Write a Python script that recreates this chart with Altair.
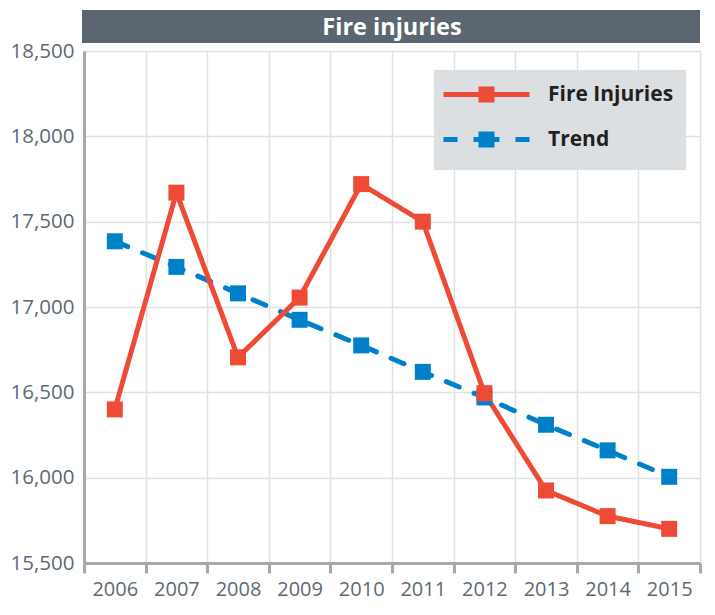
import altair as alt
import pandas as pd

# ---- data ----
years = ["2006", "2007", "2008", "2009", "2010", "2011", "2012", "2013", "2014", "2015"]
fire_injuries = [16400, 17670, 16705, 17055, 17720, 17500, 16495, 15925, 15775, 15700]
trend = [17385, 17235, 17080, 16925, 16775, 16620, 16470, 16310, 16160, 16005]
series_names = ["Fire Injuries", "Trend"]
series_colors = ["#ee4b37", "#0080c9"]
y_ticks = [15500, 16000, 16500, 17000, 17500, 18000, 18500]
title_text = "Fire injuries"

rows = []
for y, v in zip(years, trend):
    rows.append({"year": y, "value": v, "series": "Trend", "order": 0})
for y, v in zip(years, fire_injuries):
    rows.append({"year": y, "value": v, "series": "Fire Injuries", "order": 1})
df = pd.DataFrame(rows)

W, H = 616, 512
FONT = "Open Sans"
LABEL = "#5e6a73"
AXIS = "#a7a9ac"
GRID = "#dfe1e4"

# custom legend glyph: line with a square marker (units of 10 px)
def seg(x1, y1, x2, y2):
    return f"M{x1/10:.3f},{y1/10:.3f}L{x2/10:.3f},{y2/10:.3f}"

parts = [seg(-15, 0, 20, 0), seg(71, 0, 36, 0)]
for cx in [22.5, 26.2, 29.8, 33.5]:
    parts.append(seg(cx, -8, cx, 0))
    parts.append(seg(cx, 0, cx, 8))
glyph = "".join(parts)

legend = alt.Legend(
    title=None, orient="none", legendX=350, legendY=19,
    symbolType=glyph, symbolSize=400, symbolStrokeWidth=5,
    fillColor="#dcdfe2", padding=12, rowPadding=8, labelOffset=77,
    labelFont=FONT, labelFontSize=21, labelFontWeight="bold", labelColor="#231f20",
)

x_enc = alt.X(
    "year:O", title=None,
    scale=alt.Scale(type="band", paddingInner=0, paddingOuter=0),
    axis=alt.Axis(
        tickBand="extent", labelAngle=0, labelFont=FONT, labelFontSize=20,
        labelColor=LABEL, labelPadding=6, tickSize=10, tickWidth=3, tickColor=AXIS,
        domainColor=AXIS, domainWidth=3, grid=True, gridColor=GRID, gridWidth=1.5,
    ),
)
y_enc = alt.Y(
    "value:Q", title=None,
    scale=alt.Scale(domain=[15500, 18500], nice=False, zero=False),
    axis=alt.Axis(
        values=y_ticks, format=",.0f", ticks=False, labelFont=FONT, labelFontSize=20.5,
        labelColor=LABEL, labelPadding=10, domainColor=AXIS, domainWidth=3,
        grid=True, gridColor=GRID, gridWidth=1.5,
    ),
)

base = alt.Chart(df)

lines = base.mark_line(strokeWidth=5, strokeCap="round").encode(
    x=x_enc, y=y_enc,
    color=alt.Color("series:N", scale=alt.Scale(domain=series_names, range=series_colors), legend=legend),
    strokeDash=alt.StrokeDash("series:N", scale=alt.Scale(domain=series_names, range=[[1, 0], [14, 16]]), legend=legend),
    order=alt.Order("order:Q"),
)

squares = base.mark_square(size=256, opacity=1, filled=True).encode(
    x=x_enc, y=y_enc,
    color=alt.Color("series:N", scale=alt.Scale(domain=series_names, range=series_colors), legend=None),
    order=alt.Order("order:Q"),
)

title_df = pd.DataFrame({"label": [title_text]})
bar = alt.Chart(title_df).mark_rect(color="#5b6670").encode(
    x=alt.value(-2), x2=alt.value(W), y=alt.value(-41), y2=alt.value(-8)
)
title = alt.Chart(title_df).mark_text(
    color="white", fontSize=23.5, fontWeight="bold", font=FONT, baseline="middle", align="center"
).encode(x=alt.value(W / 2), y=alt.value(-23.5), text="label:N")

chart = alt.layer(bar, title, lines, squares).properties(
    width=W, height=H, background="white",
    padding={"left": 2, "top": 2, "right": 0, "bottom": 4},
).configure_view(stroke=None)

chart.save("out.html", embed_options={"renderer": "svg", "actions": False})
